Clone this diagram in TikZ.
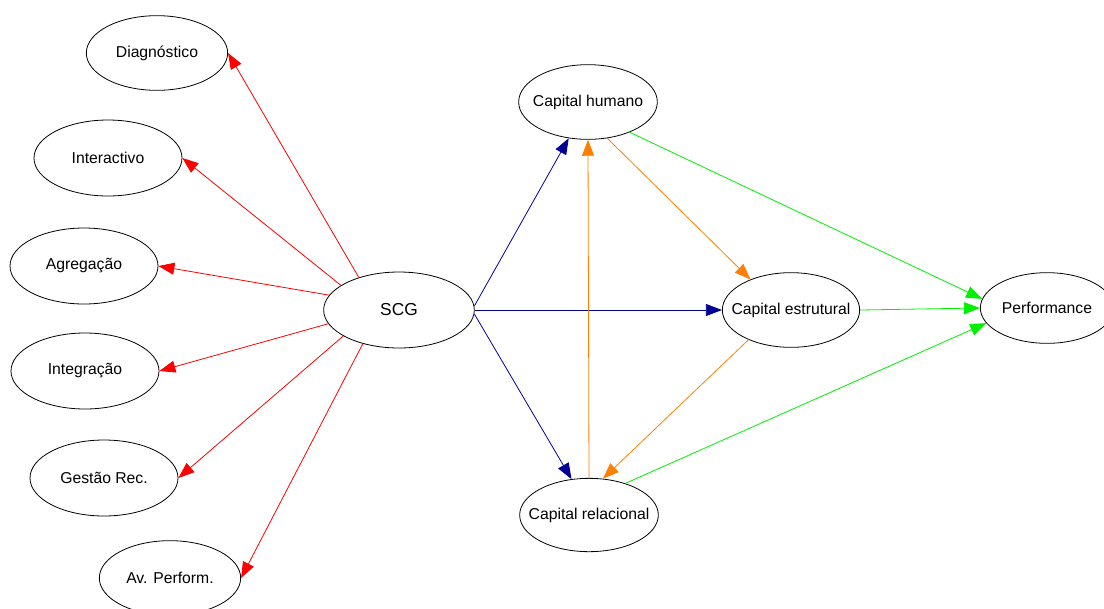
\documentclass[tikz,border=0pt]{standalone}
\usepackage{fontspec}
\setmainfont{Liberation Sans}
\usetikzlibrary{shapes.geometric,arrows.meta}
\definecolor{linkred}{RGB}{255,0,0}
\definecolor{linkblue}{RGB}{0,0,150}
\definecolor{linkorange}{RGB}{255,128,0}
\definecolor{linkgreen}{RGB}{0,240,0}
\newcommand{\nlab}[1]{\makebox[0pt]{#1}}

\begin{document}
\begin{tikzpicture}[x=0.75pt, y=-0.75pt,
    var/.style={ellipse, draw, line width=0.6pt, inner sep=0pt,
               minimum width=106pt, minimum height=56pt, font=\fontsize{11.8}{13}\selectfont},
    varw/.style={var, minimum width=111pt, minimum height=57pt},
    link/.style={-{Triangle[length=12pt,width=9pt]}, line width=0.6pt},
    redarr/.style={link, linkred},
    bluearr/.style={link, linkblue},
    orarr/.style={link, linkorange},
    grarr/.style={link, linkgreen}
]
    \useasboundingbox (0,0) rectangle (1104,608);

    % control system levers
    \node[var]  (diag)  at (157,53)  {\nlab{Diagnóstico}};
    \node[varw] (inter) at (108,158) {\nlab{Interactivo}};
    \node[varw] (agr)   at (84,266)  {\nlab{Agregação}};
    \node[varw] (integ) at (85,371)  {\nlab{Integração}};
    \node[varw] (gest)  at (104,478) {\nlab{Gestão Rec.}};
    \node[var]  (avp)   at (170,578) {\nlab{Av. Perform.}};

    \node[varw, minimum width=113pt, font=\fontsize{13}{15}\selectfont] (scg) at (399,310) {\nlab{SCG}};

    % intellectual capital
    \node[var, minimum width=104pt] (hum) at (588,102) {\nlab{Capital humano}};
    \node[var, minimum width=103pt] (est) at (791,310) {\nlab{Capital estrutural}};
    \node[var, minimum width=104pt, minimum height=55pt] (rel) at (589,515) {\nlab{Capital relacional}};
    \node[var, minimum width=100pt, minimum height=53pt] (perf) at (1047,308) {\nlab{Performance}};

    \draw[redarr] (scg.141) -- (diag.east);
    \draw[redarr] (scg.157) -- (inter.east);
    \draw[redarr] (scg.168) -- (agr.east);
    \draw[redarr] (scg.191) -- (integ.east);
    \draw[redarr] (scg.205) -- (gest.east);
    \draw[redarr] (scg.223) -- (avp.east);

    \draw[bluearr] (scg.3)    -- (hum.242);
    \draw[bluearr] (scg.east) -- (est.west);
    \draw[bluearr] (scg.-3)   -- (rel.116);

    \draw[orarr] (rel.north) -- (hum.south);
    \draw[orarr] (hum.298)   -- (est.143);
    \draw[orarr] (est.215)   -- (rel.69);

    \draw[grarr] (hum.324)  -- (perf.172);
    \draw[grarr] (est.east) -- (perf.west);
    \draw[grarr] (rel.41)   -- (perf.194);
\end{tikzpicture}
\end{document}
